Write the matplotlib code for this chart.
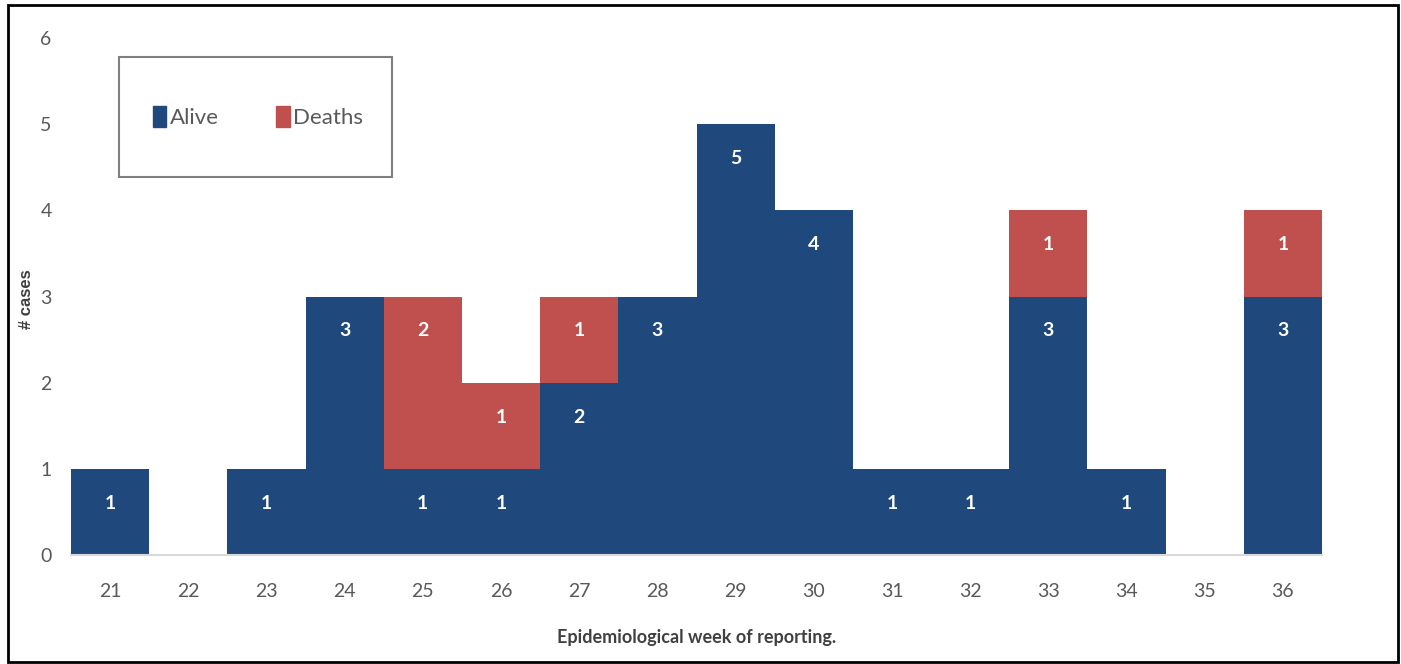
import matplotlib
matplotlib.use("Agg")
import matplotlib.pyplot as plt
from matplotlib.patches import Rectangle, Patch

weeks = ["21", "22", "23", "24", "25", "26", "27", "28", "29", "30", "31", "32", "33", "34", "35", "36"]
alive = [1, 0, 1, 3, 1, 1, 2, 3, 5, 4, 1, 1, 3, 1, 0, 3]
deaths = [0, 0, 0, 0, 2, 1, 1, 0, 0, 0, 0, 0, 1, 0, 0, 1]

BLUE = "#1F497D"
RED = "#C0504D"
GREY = "#595959"

plt.rcParams["font.family"] = ["Lato", "DejaVu Sans"]

fig = plt.figure(figsize=(14.01, 6.64), dpi=100)
ax = fig.add_axes([71 / 1401, 1 - 555 / 664, (1322 - 71) / 1401, (555 - 38) / 664])

x = list(range(len(weeks)))
ax.bar(x, alive, width=1.0, color=BLUE, linewidth=0, label="Alive")
ax.bar(x, deaths, width=1.0, bottom=alive, color=RED, linewidth=0, label="Deaths")

# value labels near the top of each segment
for i in x:
    if alive[i]:
        ax.text(i, alive[i] - 0.4, str(alive[i]), ha="center", va="center",
                color="white", fontsize=14, fontweight="bold")
    if deaths[i]:
        ax.text(i, alive[i] + deaths[i] - 0.4, str(deaths[i]), ha="center", va="center",
                color="white", fontsize=14, fontweight="bold")

ax.set_xlim(-0.5, len(weeks) - 0.5)
ax.set_ylim(0, 6)
ax.set_xticks(x)
ax.set_xticklabels(weeks)
ax.set_yticks(range(7))
ax.tick_params(axis="both", length=0, labelsize=14, colors=GREY)
ax.tick_params(axis="x", pad=20)
ax.tick_params(axis="y", pad=14)
for side in ["top", "right", "left"]:
    ax.spines[side].set_visible(False)
ax.spines["bottom"].set_color("#D9D9D9")
ax.spines["bottom"].set_linewidth(1.5)

ax.set_xlabel("Epidemiological week of reporting.", fontsize=13, fontweight="bold", color="#404040")
ax.set_ylabel("# cases", fontsize=12, fontweight="bold", color="#404040",
              family=["Liberation Sans", "DejaVu Sans"])
ax.xaxis.set_label_coords(0.5, -0.143)
ax.yaxis.set_label_coords(-0.0296, 0.495)

# legend box
legend_box = Rectangle((119 / 1401, 1 - 177 / 664), (392 - 119) / 1401, (177 - 57) / 664,
                       transform=fig.transFigure, fill=False, edgecolor="#7F7F7F", linewidth=1.5)
fig.patches.append(legend_box)
handles = [Patch(color=BLUE, label="Alive"), Patch(color=RED, label="Deaths")]
fig.legend(handles=handles, loc="center", bbox_to_anchor=(258 / 1401, 1 - 117 / 664), ncol=2,
           frameon=False, fontsize=16, handlelength=0.6, handleheight=1.1, handletextpad=0.15,
           columnspacing=2.6, labelcolor=GREY)

# outer frame around the figure
frame = Rectangle((8 / 1401, 2 / 664), (1398 - 8) / 1401, (659 - 2) / 664,
                  transform=fig.transFigure, fill=False, edgecolor="black", linewidth=2)
fig.patches.append(frame)

fig.savefig("out.png", dpi=100)
